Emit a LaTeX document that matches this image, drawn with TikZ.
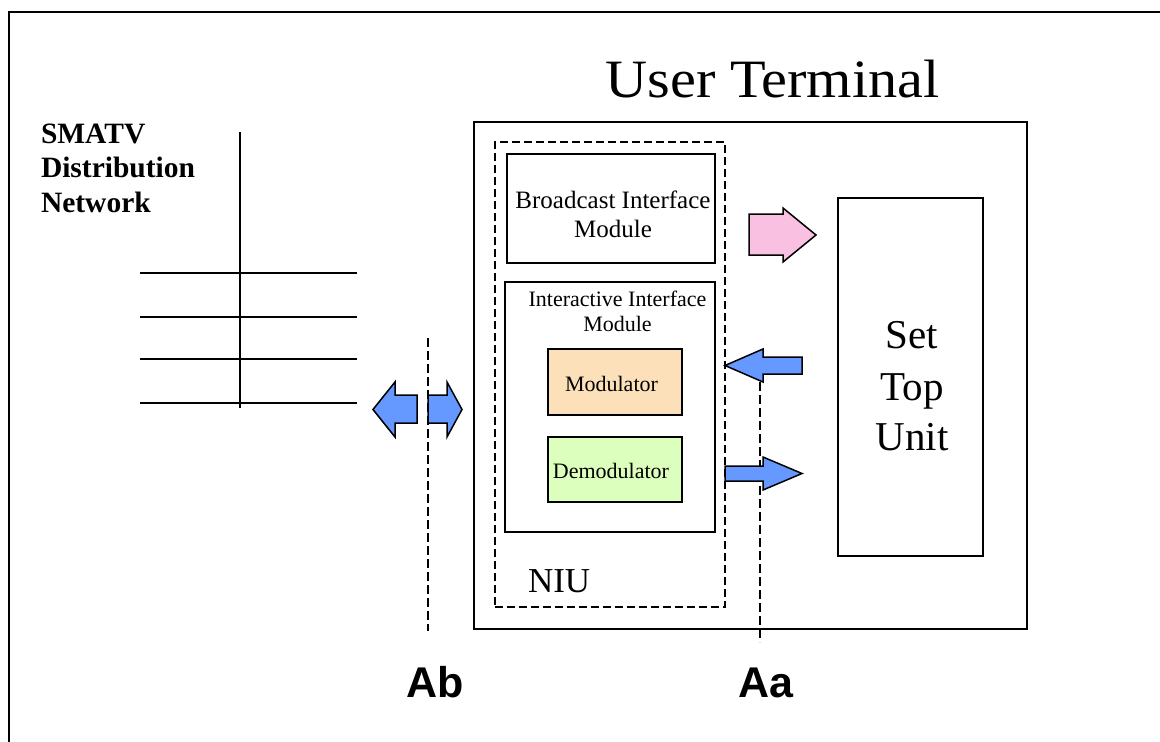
\documentclass[tikz,border=0pt]{standalone}
\usepackage{graphicx}
\usepackage{fontspec}
\setmainfont{Liberation Serif}
\newfontfamily\arialfont{Liberation Sans}
\definecolor{pinkfill}{RGB}{250,192,226}
\definecolor{bluefill}{RGB}{102,153,255}
\definecolor{modfill}{RGB}{251,224,185}
\definecolor{demodfill}{RGB}{221,255,190}
\newcommand{\fs}[1]{\fontsize{#1}{#1}\selectfont}
\tikzset{
  box/.style={draw=black, line width=1.8pt, inner sep=0pt, outer sep=0pt},
  dashbox/.style={draw=black, line width=1.5pt, dash pattern=on 8pt off 4pt, inner sep=0pt, outer sep=0pt},
  refline/.style={draw=black, line width=1.5pt, dash pattern=on 9pt off 4pt},
  netline/.style={draw=black, line width=1.5pt},
  blockarrow/.style={draw=black, line width=1.5pt, line join=miter},
  txt/.style={inner sep=0pt, outer sep=0pt, anchor=base},
}
\begin{document}
\begin{tikzpicture}[x=1pt, y=-1pt]
\useasboundingbox (0,0) rectangle (1160,742);
% outer frame
\coordinate (frTR) at (1160,12);
\coordinate (frTL) at (9,12);
\coordinate (frBL) at (9,742);
\draw[line width=2pt] (frTR) -- (frTL) -- (frBL);

% user terminal box
\node[box, minimum width=553pt, minimum height=507pt] (ut) at (750.5,375.5) {};
\node[txt] (utlabel) at (772.5,97) {\scalebox{1.08}[1]{\fs{54}User Terminal}};

% NIU dashed box
\node[dashbox, minimum width=230pt, minimum height=465pt] (niu) at (610,374.5) {};
\node[txt, anchor=base west] (niulabel) at (528,592) {\fs{35}NIU};

% Broadcast interface module
\node[box, minimum width=208pt, minimum height=109pt] (bim) at (611,208.5) {};
\node[txt] (bim1) at (613,208) {\fs{25}Broadcast Interface};
\node[txt] (bim2) at (613,237) {\fs{25}Module};

% Interactive interface module
\node[box, minimum width=210pt, minimum height=250pt] (iim) at (610,407) {};
\node[txt] (iim1) at (617.5,306.7) {\fs{22}Interactive Interface};
\node[txt] (iim2) at (617.5,331.7) {\fs{22}Module};

% modulator / demodulator
\node[box, fill=modfill, minimum width=134pt, minimum height=66pt] (mod) at (615,382) {};
\node[txt] (modl) at (611.5,391.7) {\fs{22}Modulator};
\node[box, fill=demodfill, minimum width=134pt, minimum height=65pt] (demod) at (615,469.5) {};
\node[txt] (demodl) at (611,478) {\fs{22}Demodulator};

% set top unit
\node[box, minimum width=145pt, minimum height=358pt] (stu) at (910.5,377) {};
\node[txt] (stu1) at (912,348) {\fs{41}Set};
\node[txt] (stu2) at (912,400) {\fs{41}Top};
\node[txt] (stu3) at (912,450) {\fs{41}Unit};

% SMATV text
\node[txt, anchor=base west] (sm1) at (41,143) {\fs{29.5}\bfseries SMATV};
\node[txt, anchor=base west] (sm2) at (41,177.5) {\fs{29.5}\bfseries Distribution};
\node[txt, anchor=base west] (sm3) at (41,212) {\fs{29.5}\bfseries Network};

% distribution network lines
\coordinate (nvt) at (240,132);
\coordinate (nvb) at (240,408);
\draw[netline] (nvt) -- (nvb);
\foreach \y/\n in {273/a,317/b,359/c,403/d}{
  \coordinate (hl\n) at (140,\y);
  \coordinate (hr\n) at (357,\y);
  \draw[netline] (hl\n) -- (hr\n);
}

% reference point dashed lines
\coordinate (abt) at (428,338);
\coordinate (abb) at (428,631);
\draw[refline] (abt) -- (abb);
\coordinate (aat) at (760,382);
\coordinate (aab) at (760,642);
\draw[refline] (aat) -- (aab);

% block arrows
\draw[blockarrow, fill=pinkfill] (749,214) -- (783,214) -- (783,208) -- (816,235) -- (783,262) -- (783,255) -- (749,255) -- cycle;
\draw[blockarrow, fill=bluefill] (725,365.5) -- (763,349) -- (763,357) -- (802,357) -- (802,374) -- (763,374) -- (763,382) -- cycle;
\draw[blockarrow, fill=bluefill] (725,466) -- (763,466) -- (763,457) -- (802,473.5) -- (763,490) -- (763,481) -- (725,481) -- cycle;
\draw[blockarrow, fill=bluefill] (373,409.5) -- (395,382) -- (395,395) -- (417,395) -- (417,423) -- (395,423) -- (395,437) -- cycle;
\draw[blockarrow, fill=bluefill] (428,395) -- (447,395) -- (447,382) -- (462,409.5) -- (447,437) -- (447,423) -- (428,423) -- cycle;

% reference labels
\node[txt] (ab) at (435,697) {\arialfont\bfseries\fs{43}Ab};
\node[txt] (aa) at (766,697) {\arialfont\bfseries\fs{43}Aa};
\end{tikzpicture}
\end{document}
